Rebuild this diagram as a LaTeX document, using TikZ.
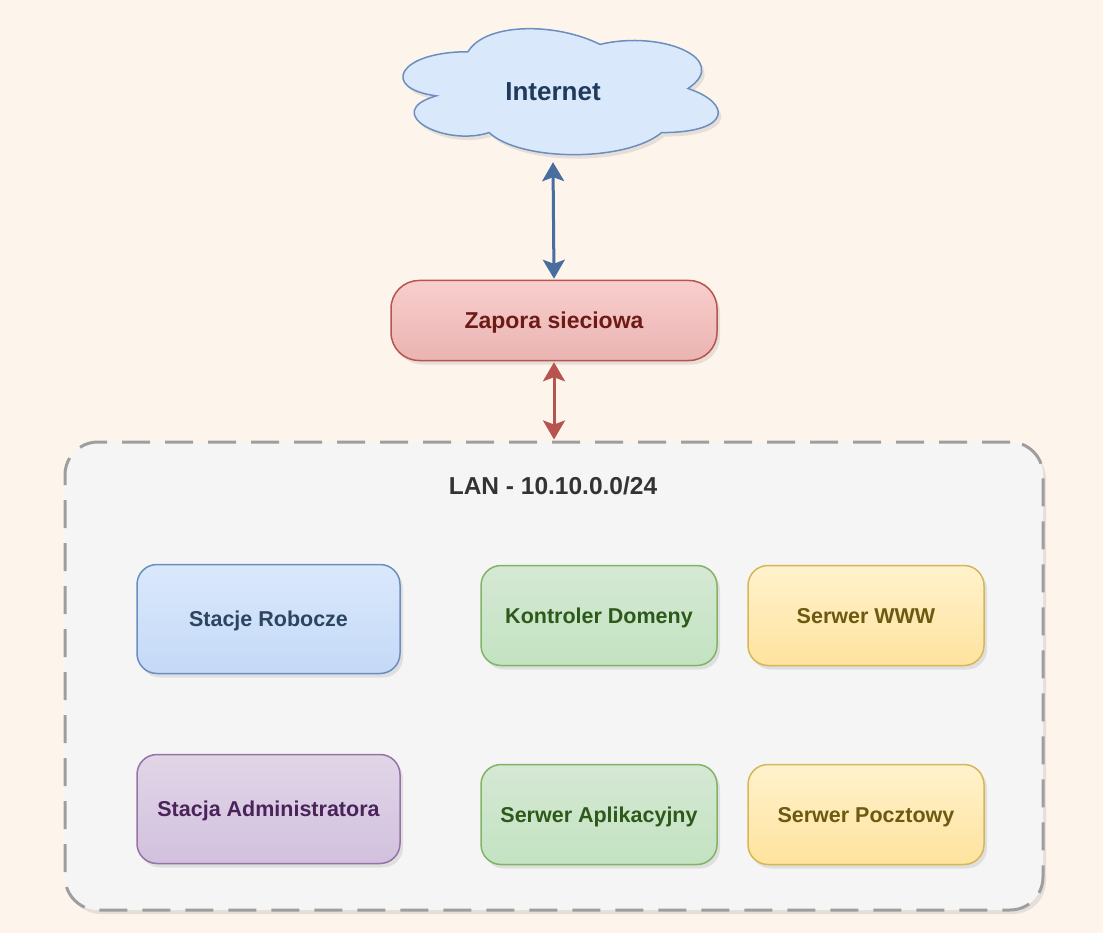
\documentclass[tikz,border=0pt]{standalone}
\usepackage{fontspec}
\setmainfont{Liberation Sans}
\usetikzlibrary{arrows.meta,shadows}

\definecolor{bgcream}{HTML}{FDF5EC}
\definecolor{lanfill}{HTML}{F5F5F5}
\definecolor{landash}{HTML}{9E9E9E}
\definecolor{lantext}{HTML}{333333}
\definecolor{cloudfill}{HTML}{DAE8FC}
\definecolor{cloudline}{HTML}{6C8EBF}
\definecolor{cloudtext}{HTML}{1F3B5C}
\definecolor{linkblue}{HTML}{4A6DA0}
\definecolor{linkred}{HTML}{B85450}
\definecolor{fwtop}{HTML}{F8CECC}
\definecolor{fwbot}{HTML}{EAB4B2}
\definecolor{fwtext}{HTML}{6E1B17}
\definecolor{bluetop}{HTML}{DAE8FC}
\definecolor{bluebot}{HTML}{C4D9F7}
\definecolor{bluetext}{HTML}{2C4560}
\definecolor{purptop}{HTML}{E1D5E7}
\definecolor{purpbot}{HTML}{D2C1DE}
\definecolor{purpline}{HTML}{9673A6}
\definecolor{purptext}{HTML}{4A235A}
\definecolor{greentop}{HTML}{D5E8D4}
\definecolor{greenbot}{HTML}{C3E3C1}
\definecolor{greenline}{HTML}{82B366}
\definecolor{greentext}{HTML}{2D5A1B}
\definecolor{yeltop}{HTML}{FFF2CC}
\definecolor{yelbot}{HTML}{FFE39E}
\definecolor{yelline}{HTML}{D6B656}
\definecolor{yeltext}{HTML}{6B5A10}

\begin{document}
\begin{tikzpicture}[x=1pt,y=-1pt,
        softshadow/.style={drop shadow={shadow xshift=3pt,shadow yshift=-4pt,opacity=0.18}},
        box/.style={rounded corners=20pt,line width=1.5pt,softshadow,text height=15.5pt,text depth=0pt,
            font=\fontsize{21.5}{26}\selectfont\bfseries},
        wide/.style={box,minimum width=263pt,minimum height=109pt},
        narrow/.style={box,minimum width=236pt,minimum height=100pt},
        bluebox/.style={draw=cloudline,top color=bluetop,bottom color=bluebot,text=bluetext},
        purpbox/.style={draw=purpline,top color=purptop,bottom color=purpbot,text=purptext},
        greenbox/.style={draw=greenline,top color=greentop,bottom color=greenbot,text=greentext},
        yelbox/.style={draw=yelline,top color=yeltop,bottom color=yelbot,text=yeltext},
        duplex/.style={line width=3pt,{Stealth[length=19pt,width=22pt,inset=4pt]}-{Stealth[length=19pt,width=22pt,inset=4pt]}}]
        \useasboundingbox (0,0) rectangle (1103,933);
        \fill[bgcream] (0,0) rectangle (1103,933);

        % cloud outline
        \begin{scope}[shift={(380,15)},x=352pt,y=-147pt]
            \filldraw[fill=cloudfill,draw=cloudline,line width=1.5pt,softshadow]
                (0.25,0.25) .. controls (0.05,0.25) and (0,0.5) .. (0.16,0.55)
                .. controls (0,0.66) and (0.18,0.9) .. (0.31,0.8)
                .. controls (0.4,1) and (0.7,1) .. (0.8,0.8)
                .. controls (1,0.8) and (1,0.6) .. (0.875,0.5)
                .. controls (1,0.3) and (0.8,0.1) .. (0.625,0.2)
                .. controls (0.5,0.05) and (0.3,0.05) .. (0.25,0.25) -- cycle;
        \end{scope}
        \node[minimum width=310pt,minimum height=126pt,text=cloudtext,
            font=\fontsize{26}{30}\selectfont\bfseries] (inet) at (553,92) {Internet};

        \node[box,rounded corners=28pt,minimum width=326pt,minimum height=80pt,text height=16.5pt,
            draw=linkred,top color=fwtop,bottom color=fwbot,text=fwtext,
            font=\fontsize{23}{28}\selectfont\bfseries] (fw) at (554,320.5) {Zapora sieciowa};

        \node[draw=landash,fill=lanfill,line width=3pt,dash pattern=on 28pt off 15pt,
            rounded corners=33pt,minimum width=978pt,minimum height=468pt,softshadow] (lan) at (554,676) {};
        \node[text=lantext,font=\fontsize{24.5}{30}\selectfont\bfseries] (lantxt) at (553,486) {LAN - 10.10.0.0/24};

        \node[wide,bluebox] (ws) at (268.5,619) {Stacje Robocze};
        \node[wide,purpbox] (adm) at (268.5,809) {Stacja Administratora};
        \node[narrow,greenbox] (dc) at (599,615.5) {Kontroler Domeny};
        \node[narrow,yelbox] (www) at (866,615.5) {Serwer WWW};
        \node[narrow,greenbox] (app) at (599,814.5) {Serwer Aplikacyjny};
        \node[narrow,yelbox] (mail) at (866,814.5) {Serwer Pocztowy};

        \draw[duplex,linkblue] ([yshift=-7pt]inet.south) -- ([yshift=1pt]fw.north);
        \draw[duplex,linkred] ([yshift=-1pt]fw.south) -- ([yshift=1pt]lan.north);
    \end{tikzpicture}
\end{document}
